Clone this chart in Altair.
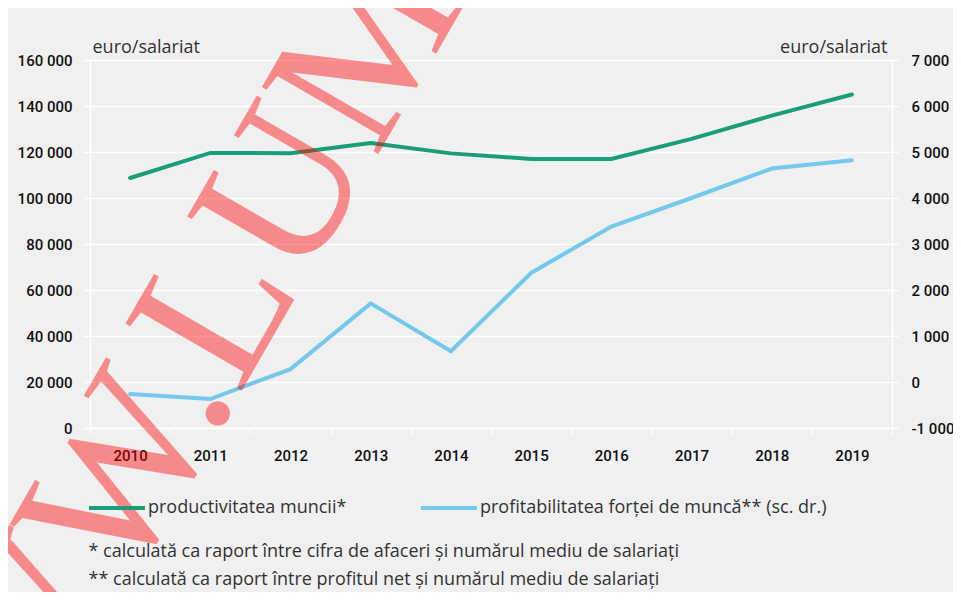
import altair as alt
import pandas as pd

years = ["2010", "2011", "2012", "2013", "2014", "2015", "2016", "2017", "2018", "2019"]
productivitate = [108700, 119600, 119500, 123900, 119400, 117000, 117000, 125700, 135800, 145000]
profitabilitate = [-260, -370, 280, 1710, 670, 2370, 3380, 4000, 4640, 4820]
series_names = ["productivitatea muncii*", "profitabilitatea forței de muncă** (sc. dr.)"]
series_colors = ["#1b9e77", "#74c8ec"]
left_ticks = [0, 20000, 40000, 60000, 80000, 100000, 120000, 140000, 160000]
right_ticks = [-1000, 0, 1000, 2000, 3000, 4000, 5000, 6000, 7000]
unit_label = "euro/salariat"
footnotes = [
    "* calculată ca raport între cifra de afaceri și numărul mediu de salariați",
    "** calculată ca raport între profitul net și numărul mediu de salariați",
]
watermark = ["WW.LUM"]

df_left = pd.DataFrame({"year": years, "value": productivitate, "series": series_names[0]})
df_right = pd.DataFrame({"year": years, "value": profitabilitate, "series": series_names[1]})

NUM = "replace(join(split(format(datum.value, ','), ','), ' '), '\u2212', '-')"
TICKFONT = "Roboto"
TICKSIZE = 15
TICKWEIGHT = 500
TEXTFONT = "Open Sans"

x_enc = alt.X(
    "year:O",
    bandPosition=0.5,
    scale=alt.Scale(type="band", paddingInner=0, paddingOuter=0),
    axis=alt.Axis(
        title=footnotes, titleAnchor="start", titleAlign="left", titleBaseline="alphabetic",
        titleX=-2, titleY=128, titleLineHeight=28,
        titleFont=TEXTFONT, titleFontSize=18, titleFontWeight="normal", titleColor="#333333",
        labelAngle=0, tickBand="extent", grid=False,
        domainColor="white", domainWidth=1.5, tickColor="white", tickWidth=1.5, tickSize=6,
        labelFont=TICKFONT, labelFontSize=TICKSIZE, labelFontWeight=TICKWEIGHT,
        labelColor="#111111", labelPadding=14,
    ),
)

color_enc = alt.Color(
    "series:N",
    scale=alt.Scale(domain=series_names, range=series_colors),
    legend=alt.Legend(
        orient="none", legendX=-3, legendY=418, direction="horizontal", title=None,
        symbolType="stroke", symbolSize=3136, symbolStrokeWidth=4,
        labelFont=TEXTFONT, labelFontSize=18, labelColor="#333333", labelOffset=1,
        columnPadding=66, padding=0, labelLimit=600,
    ),
)

left = alt.Chart(df_left).mark_line(strokeWidth=4, strokeCap="round").encode(
    x=x_enc,
    y=alt.Y(
        "value:Q",
        scale=alt.Scale(domain=[0, 160000], nice=False),
        axis=alt.Axis(
            values=left_ticks, labelExpr=NUM, title=unit_label, titleAngle=0,
            titleX=2, titleY=-8, titleAlign="left", titleBaseline="alphabetic",
            titleFont=TEXTFONT, titleFontSize=18, titleFontWeight="normal", titleColor="#333333",
            labelFont=TICKFONT, labelFontSize=TICKSIZE, labelFontWeight=TICKWEIGHT,
            labelColor="#111111", labelPadding=11,
            tickColor="white", tickSize=7, tickWidth=1.5,
            domainColor="white", domainWidth=1.5,
            grid=True, gridColor="white", gridWidth=1.5,
        ),
    ),
    color=color_enc,
)

right = alt.Chart(df_right).mark_line(strokeWidth=4, strokeCap="round").encode(
    x=x_enc,
    y=alt.Y(
        "value:Q",
        scale=alt.Scale(domain=[-1000, 7000], nice=False),
        axis=alt.Axis(
            orient="right", values=right_ticks, labelExpr=NUM, title=unit_label, titleAngle=0,
            titleX=-5, titleY=-8, titleAlign="right", titleBaseline="alphabetic",
            titleFont=TEXTFONT, titleFontSize=18, titleFontWeight="normal", titleColor="#333333",
            labelFont=TICKFONT, labelFontSize=TICKSIZE, labelFontWeight=TICKWEIGHT,
            labelColor="#111111", labelPadding=13,
            tickColor="white", tickSize=6, tickWidth=1.5,
            domainColor="white", domainWidth=1.5, grid=False,
        ),
    ),
    color=color_enc,
)

wm = alt.Chart(pd.DataFrame({"t": watermark})).mark_text(
    angle=300, align="left", baseline="alphabetic", font="Liberation Serif",
    fontSize=205, color="#ff0000", opacity=0.42,
).encode(x=alt.value(-61), y=alt.value(699), text="t:N")

chart = (
    alt.layer(left, right, wm)
    .resolve_scale(y="independent")
    .properties(
        width=802, height=368,
        autosize=alt.AutoSizeParams(type="none"),
        padding={"left": 82, "top": 52, "right": 61, "bottom": 164},
        background="#f0f0f0",
    )
    .configure_view(stroke=None)
)

chart.save("out.html", embed_options={"renderer": "svg", "actions": False})
